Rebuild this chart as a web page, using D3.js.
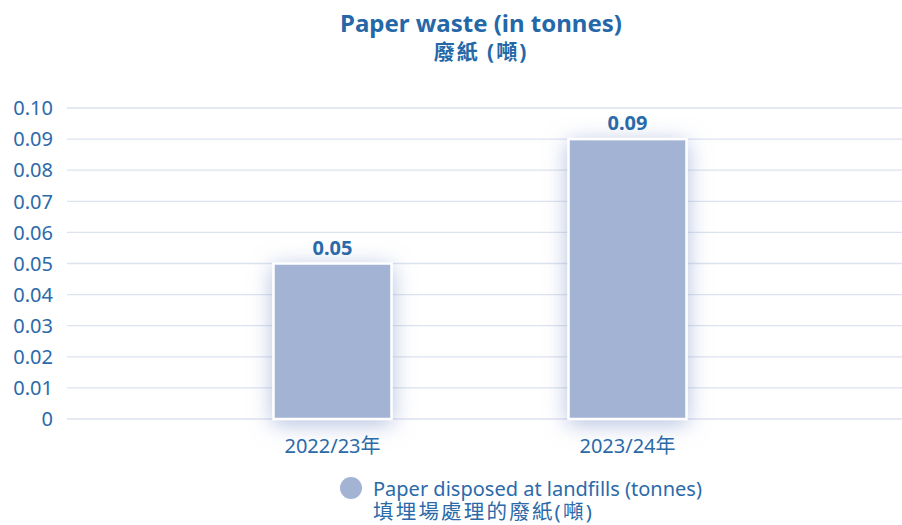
<!DOCTYPE html>
<html><head><meta charset="utf-8">
<script src="https://cdn.jsdelivr.net/npm/d3@7"></script>
<style>body{margin:0;background:#fff}svg{display:block}</style>
</head><body>
<svg id="c" width="902" height="525"></svg>
<script>
const categories = ["2022/23年", "2023/24年"];
const values = [0.05, 0.09];
const yTicks = [0, 0.01, 0.02, 0.03, 0.04, 0.05, 0.06, 0.07, 0.08, 0.09, 0.10];
const titleLines = ["Paper waste (in tonnes)", "廢紙 (噸)"];
const legendLines = ["Paper disposed at landfills (tonnes)", "填埋場處理的廢紙(噸)"];

const W = 902, H = 525;
const mLeft = 67, mRight = 893, mTop = 108, mBottom = 419;
const textColor = "#2b6aa9", barColor = "#a3b3d4", gridColor = "#dce2ee";
const font = "'Noto Sans', 'Noto Sans CJK TC', sans-serif";

const svg = d3.select("#c");
const defs = svg.append("defs");
const f = defs.append("filter").attr("id","glow").attr("x","-50%").attr("y","-50%").attr("width","200%").attr("height","200%");
f.append("feDropShadow").attr("dx",0).attr("dy",4).attr("stdDeviation",11).attr("flood-color","#8d9fcf").attr("flood-opacity",0.65);

const x = d3.scaleBand().domain(categories).range([mLeft, mRight]).paddingInner(0.6).paddingOuter(0.7);
const y = d3.scaleLinear().domain([0, 0.10]).range([mBottom, mTop]);

// grid
svg.append("g").selectAll("line").data(yTicks).join("line")
  .attr("x1", mLeft).attr("x2", W)
  .attr("y1", d => y(d)).attr("y2", d => y(d))
  .attr("stroke", gridColor).attr("stroke-width", 1.3);

// y labels
svg.append("g").selectAll("text").data(yTicks).join("text")
  .attr("x", 53).attr("y", d => y(d)).attr("dy", "0.36em")
  .attr("text-anchor", "end").attr("fill", textColor)
  .style("font", `20px ${font}`)
  .text(d => d === 0 ? "0" : d3.format(".2f")(d));

// bars
svg.append("g").selectAll("rect").data(values).join("rect")
  .attr("x", (d,i) => x(categories[i]))
  .attr("y", d => y(d))
  .attr("width", x.bandwidth())
  .attr("height", d => y(0) - y(d))
  .attr("fill", barColor).attr("stroke", "#fff").attr("stroke-width", 2.5)
  .attr("filter", "url(#glow)");

// value labels
svg.append("g").selectAll("text").data(values).join("text")
  .attr("x", (d,i) => x(categories[i]) + x.bandwidth()/2)
  .attr("y", d => y(d) - 9)
  .attr("text-anchor", "middle").attr("fill", textColor)
  .style("font", `bold 20px ${font}`)
  .text(d => d3.format(".2f")(d));

// x labels
svg.append("g").selectAll("text").data(categories).join("text")
  .attr("x", d => x(d) + x.bandwidth()/2)
  .attr("y", 453)
  .attr("text-anchor", "middle").attr("fill", textColor)
  .style("font", `20px ${font}`)
  .text(d => d);

// title
svg.append("text").attr("x", 481).attr("y", 32)
  .attr("text-anchor", "middle").attr("fill", "#2468a8")
  .style("font", `bold 24px ${font}`)
  .text(titleLines[0]);
svg.append("text").attr("x", 481).attr("y", 59)
  .attr("text-anchor", "middle").attr("fill", "#2468a8")
  .style("font", `bold 21px ${font}`).style("letter-spacing", "2px")
  .text(titleLines[1]);

// legend
svg.append("circle").attr("cx", 351).attr("cy", 488).attr("r", 11).attr("fill", barColor);
svg.append("text").attr("x", 373).attr("y", 496)
  .attr("fill", textColor).style("font", `20px ${font}`)
  .text(legendLines[0]);
svg.append("text").attr("x", 373).attr("y", 518.5)
  .attr("fill", textColor).style("font", `20.5px ${font}`).style("letter-spacing", "2.2px")
  .text(legendLines[1]);
</script>
</body></html>
